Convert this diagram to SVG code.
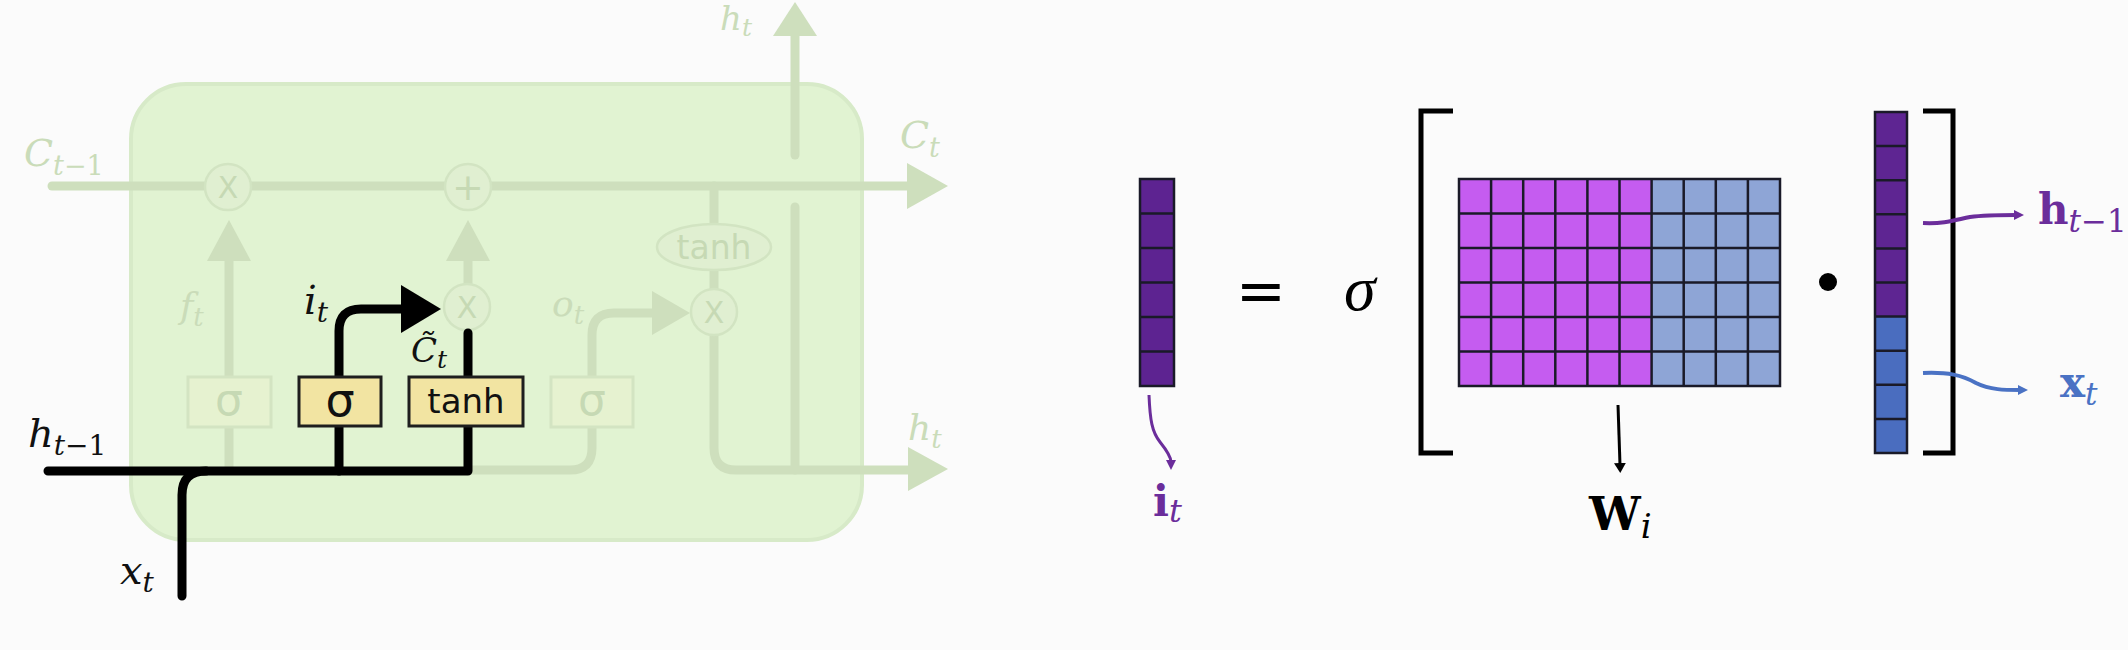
<svg xmlns="http://www.w3.org/2000/svg" width="2128" height="650" viewBox="0 0 2128 650">
<style>
.fl{fill:none;stroke:#cedfbd;stroke-width:9;stroke-linecap:round;stroke-linejoin:round}
.fa{fill:#cedfbd}
.fc{fill:#e0efd1;stroke:#d2e4c2;stroke-width:2.5}
.ft{fill:#c6d9b4;font-family:"DejaVu Sans",sans-serif}
.fm{fill:#cadcb9;font-family:"DejaVu Serif",serif;font-style:italic}
.fb{fill:#e6f2d0;stroke:#d3e4c2;stroke-width:3}
.bl{fill:none;stroke:#000;stroke-width:9;stroke-linecap:round;stroke-linejoin:round}
.yb{fill:#f2e4a2;stroke:#1e1e1e;stroke-width:3}
.bt{fill:#111;font-family:"DejaVu Sans",sans-serif}
.km{fill:#111;font-family:"DejaVu Serif",serif;font-style:italic}
.grid{stroke:#1a1a28;stroke-width:2.5}
.br{fill:none;stroke:#000;stroke-width:5}
.mb{font-family:"DejaVu Serif",serif;font-weight:bold}
.sub{font-family:"DejaVu Serif",serif;font-style:italic;font-weight:normal}
.up{font-style:normal}
</style>
<defs>
<marker id="ap" markerWidth="10" markerHeight="10" refX="2" refY="5" orient="auto" markerUnits="userSpaceOnUse" viewBox="0 0 10 10"><path d="M0,0 L10,5 L0,10 z" fill="#6b2d9b"/></marker>
<marker id="ab" markerWidth="10" markerHeight="10" refX="2" refY="5" orient="auto" markerUnits="userSpaceOnUse" viewBox="0 0 10 10"><path d="M0,0 L10,5 L0,10 z" fill="#4a72c4"/></marker>
<marker id="ak" markerWidth="10" markerHeight="12" refX="2" refY="6" orient="auto" markerUnits="userSpaceOnUse" viewBox="0 0 10 12"><path d="M0,0 L10,6 L0,12 z" fill="#000"/></marker>
</defs>
<rect width="2128" height="650" fill="#fbfbfb"/>

<g id="lstm-cell">
<rect x="131" y="84" width="731" height="456" rx="55" fill="#e1f3d2" stroke="#d7eac8" stroke-width="4"/>
</g>

<g id="faded-connectors">
<path class="fl" d="M52,186 H907"/>
<polygon class="fa" points="907,163 948,186 907,209"/>
<path class="fl" d="M795,155 V35"/>
<polygon class="fa" points="773,36 795,2 817,36"/>
<path class="fl" d="M795,207 V470"/>
<path class="fl" d="M714,186 V224"/>
<path class="fl" d="M714,270 V289"/>
<path class="fl" d="M714,335 V448 Q714,470 736,470 H908"/>
<polygon class="fa" points="908,447 948,469 908,491"/>
<path class="fl" d="M468,470 H570 Q592,470 592,448 V426"/>
<path class="fl" d="M592,376 V335 Q592,313 614,313 H652"/>
<polygon class="fa" points="652,291 690,313 652,335"/>
<path class="fl" d="M229,470 V426"/>
<path class="fl" d="M229,376 V261"/>
<polygon class="fa" points="207,261 229,220 251,261"/>
<path class="fl" d="M468,284 V261"/>
<polygon class="fa" points="446,261 468,220 490,261"/>
</g>

<g id="forget-mult">
<circle class="fc" cx="228" cy="187" r="23"/>
<text class="ft" x="228" y="198" font-size="30" text-anchor="middle">X</text>
</g>
<g id="cell-add">
<circle class="fc" cx="468" cy="187" r="23"/>
<text class="ft" x="468" y="200" font-size="38" text-anchor="middle">+</text>
</g>
<g id="input-mult">
<circle class="fc" cx="467" cy="307" r="23"/>
<text class="ft" x="467" y="318" font-size="30" text-anchor="middle">X</text>
</g>
<g id="output-mult">
<circle class="fc" cx="714" cy="312" r="23"/>
<text class="ft" x="714" y="323" font-size="30" text-anchor="middle">X</text>
</g>
<g id="cell-tanh">
<ellipse class="fc" cx="714" cy="247" rx="57" ry="23"/>
<text class="ft" x="714" y="259" font-size="33" text-anchor="middle">tanh</text>
</g>
<g id="forget-gate">
<rect class="fb" x="188" y="377" width="83" height="50"/>
<text class="ft" x="229" y="415" font-size="44" text-anchor="middle">σ</text>
</g>
<g id="output-gate">
<rect class="fb" x="551" y="377" width="82" height="50"/>
<text class="ft" x="592" y="415" font-size="44" text-anchor="middle">σ</text>
</g>

<g id="faded-labels">
<text class="fm" x="24" y="166" font-size="38">C<tspan font-size="27" dy="9">t−<tspan class="up">1</tspan></tspan></text>
<text class="fm" x="900" y="148" font-size="38">C<tspan font-size="27" dy="9">t</tspan></text>
<text class="fm" x="720" y="30" font-size="34">h<tspan font-size="25" dy="6">t</tspan></text>
<text class="fm" x="908" y="440" font-size="36">h<tspan font-size="26" dy="8">t</tspan></text>
<text class="fm" x="180" y="318" font-size="36">f<tspan font-size="26" dy="8">t</tspan></text>
<text class="fm" x="552" y="316" font-size="36">o<tspan font-size="26" dy="8">t</tspan></text>
</g>

<g id="active-connectors">
<path class="bl" d="M48,471 H468 V427"/>
<path class="bl" d="M182,596 V495 Q182,471 206,471"/>
<path class="bl" d="M339,471 V427"/>
<path class="bl" d="M339,376 V331 Q339,309 361,309 H404"/>
<polygon points="401,285 441,309 401,333" fill="#000"/>
<path class="bl" d="M468,376 V333"/>
</g>

<g id="input-gate">
<rect class="yb" x="299" y="377" width="82" height="49"/>
<text class="bt" x="340" y="416" font-size="46" text-anchor="middle">σ</text>
</g>
<g id="candidate-tanh">
<rect class="yb" x="409" y="377" width="114" height="49"/>
<text class="bt" x="466" y="413" font-size="34" text-anchor="middle">tanh</text>
</g>

<g id="active-labels">
<text class="km" x="28" y="447" font-size="40">h<tspan font-size="28" dy="8">t−<tspan class="up">1</tspan></tspan></text>
<text class="km" x="120" y="584" font-size="40">x<tspan font-size="28" dy="8">t</tspan></text>
<text class="km" x="304" y="314" font-size="40">i<tspan font-size="28" dy="8">t</tspan></text>
<text class="km" x="411" y="362" font-size="34">C&#x303;<tspan font-size="25" dy="6">t</tspan></text>
</g>

<g id="it-vector">
<rect x="1140" y="179" width="34" height="207" fill="#5d2391" class="grid"/>
<path class="grid" d="M1140,213.5 H1174 M1140,248 H1174 M1140,282.5 H1174 M1140,317 H1174 M1140,351.5 H1174"/>
</g>
<g id="it-label">
<path d="M1149,395 C1150,420 1152,432 1160,442 C1168,452 1171,458 1171,462" fill="none" stroke="#6b2d9b" stroke-width="3" marker-end="url(#ap)"/>
<text class="mb" x="1153" y="516" font-size="42" fill="#6b2d9b">i<tspan class="sub" font-size="32" dy="6">t</tspan></text>
</g>

<g id="equals">
<text x="1261" y="311" font-size="60" text-anchor="middle" font-family="DejaVu Sans,sans-serif" fill="#000">=</text>
<text x="1344" y="310" font-size="64" font-family="Liberation Serif,serif" font-style="italic" fill="#000">σ</text>
</g>

<g id="bracket-left"><path class="br" d="M1453,111 H1421 V453 H1453"/></g>

<g id="Wi-matrix">
<rect x="1459" y="179" width="192.6" height="207" fill="#c55cf0"/>
<rect x="1651.6" y="179" width="128.4" height="207" fill="#8ea5d6"/>
<rect x="1459" y="179" width="321" height="207" fill="none" class="grid"/>
<path class="grid" d="M1491.1,179 V386 M1523.2,179 V386 M1555.3,179 V386 M1587.4,179 V386 M1619.5,179 V386 M1651.6,179 V386 M1683.7,179 V386 M1715.8,179 V386 M1747.9,179 V386 M1459,213.5 H1780 M1459,248 H1780 M1459,282.5 H1780 M1459,317 H1780 M1459,351.5 H1780"/>
</g>
<g id="Wi-label">
<path d="M1618,405 L1620,465" fill="none" stroke="#000" stroke-width="3" marker-end="url(#ak)"/>
<text class="mb" x="1589" y="530" font-size="46" fill="#000">W<tspan class="sub" font-size="34" dy="8">i</tspan></text>
</g>

<g id="dot"><circle cx="1828" cy="282" r="9" fill="#000"/></g>

<g id="concat-vector">
<rect x="1875" y="112" width="32" height="204.6" fill="#5e2592"/>
<rect x="1875" y="316.6" width="32" height="136.4" fill="#4a6dbf"/>
<rect x="1875" y="112" width="32" height="341" fill="none" class="grid"/>
<path class="grid" d="M1875,146.1 H1907 M1875,180.2 H1907 M1875,214.3 H1907 M1875,248.4 H1907 M1875,282.5 H1907 M1875,316.6 H1907 M1875,350.7 H1907 M1875,384.8 H1907 M1875,418.9 H1907"/>
</g>

<g id="bracket-right"><path class="br" d="M1923,111 H1953 V453 H1923"/></g>

<g id="h-label">
<path d="M1923,223 C1945,224 1955,220 1970,217 C1985,215 2000,215 2016,215" fill="none" stroke="#6b2d9b" stroke-width="4" marker-end="url(#ap)"/>
<text class="mb" x="2038" y="224" font-size="42" fill="#6b2d9b">h<tspan class="sub" font-size="31" dy="8">t−<tspan class="up">1</tspan></tspan></text>
</g>
<g id="x-label">
<path d="M1923,373 C1948,372 1962,375 1976,383 C1990,390 2005,390 2020,390" fill="none" stroke="#4a72c4" stroke-width="4" marker-end="url(#ab)"/>
<text class="mb" x="2060" y="397" font-size="42" fill="#4a72c4">x<tspan class="sub" font-size="31" dy="8">t</tspan></text>
</g>
</svg>
